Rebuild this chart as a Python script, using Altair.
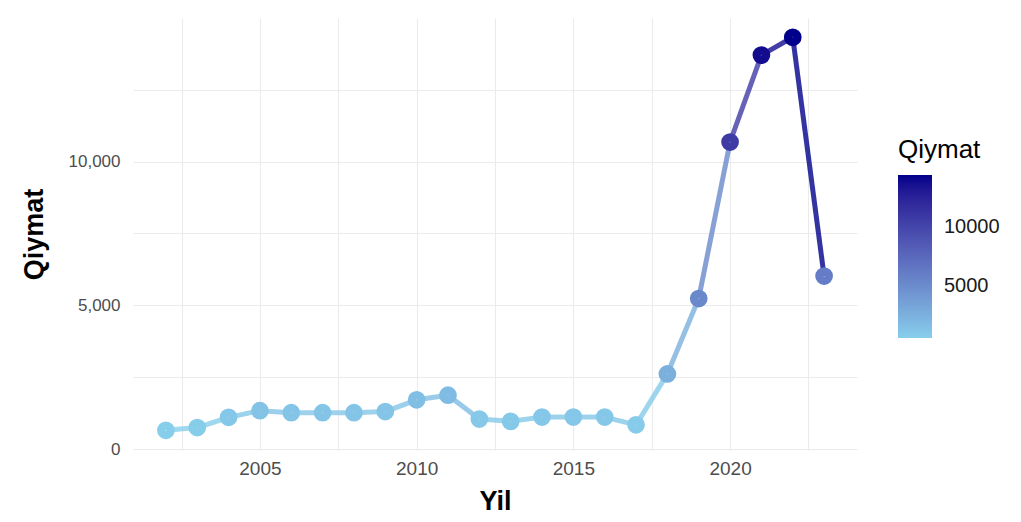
import altair as alt
import pandas as pd

years = list(range(2002, 2024))
values = [660, 755, 1110, 1340, 1270, 1270, 1270, 1310, 1720, 1880, 1050, 970,
          1120, 1120, 1120, 850, 2620, 5240, 10680, 13700, 14320, 6020]

x_grid = [2002.5, 2005, 2007.5, 2010, 2012.5, 2015, 2017.5, 2020, 2022.5]
y_grid = [0, 2500, 5000, 7500, 10000, 12500]
legend_ticks = [5000, 10000]

pts = pd.DataFrame({"Yil": years, "Qiymat": values})
seg = pd.DataFrame({
    "Yil": years[:-1], "Qiymat": values[:-1],
    "Yil2": years[1:], "Qiymat2": values[1:],
})

font = "Liberation Sans"
vmin, vmax = min(values), max(values)

xs = alt.Scale(domain=[2000.95, 2024.05], nice=False, zero=False)
ys = alt.Scale(domain=[-25, 14990], nice=False, zero=False)
cs = alt.Scale(domain=[vmin, vmax], range=["#87CEEB", "#00008B"], interpolate="lab", zero=False)

legend = alt.Legend(
    type="gradient",
    title="Qiymat", orient="none", legendX=765, legendY=119,
    direction="vertical", gradientLength=163, gradientThickness=34,
    gradientStrokeWidth=0, values=legend_ticks, format="d",
    labelFontSize=20, labelColor="#1A1A1A", labelFont=font, labelOffset=12,
    titleFontSize=26, titleFontWeight="normal", titleColor="#000000",
    titleFont=font, titlePadding=12,
)

xaxis = alt.Axis(
    title="Yil", values=x_grid,
    labelExpr="datum.value % 5 == 0 ? format(datum.value, 'd') : ''",
    labelFontSize=19, labelPadding=9, titleFontSize=27, titlePadding=10,
)
yaxis = alt.Axis(
    title="Qiymat", values=y_grid,
    labelExpr="datum.value % 5000 == 0 ? format(datum.value, ',') : ''",
    labelFontSize=17, labelPadding=13, titleFontSize=27, titlePadding=20,
)

color = alt.Color("Qiymat:Q", scale=cs, legend=legend)

lines = alt.Chart(seg).mark_rule(strokeWidth=5, strokeOpacity=0.8).encode(
    x=alt.X("Yil:Q", scale=xs, axis=xaxis),
    x2="Yil2:Q",
    y=alt.Y("Qiymat:Q", scale=ys, axis=yaxis),
    y2="Qiymat2:Q",
    color=color,
)

# thick-stroked circles read as solid discs and keep the legend stroke-only
points = alt.Chart(pts).mark_point(filled=False, size=68, strokeWidth=9.5, opacity=1, shape="circle").encode(
    x=alt.X("Yil:Q", scale=xs, axis=xaxis),
    y=alt.Y("Qiymat:Q", scale=ys, axis=yaxis),
    color=color,
)

chart = alt.layer(lines, points).properties(
    width=724, height=432,
    autosize=alt.AutoSizeParams(type="none"),
    padding={"left": 125, "top": 10, "right": 156, "bottom": 64},
    background="white",
).configure_view(stroke=None, fill="white").configure_axis(
    grid=True, gridColor="#EBEBEB", gridWidth=1.1, domain=False, ticks=False,
    labelColor="#4D4D4D", labelFont=font, titleFont=font, titleColor="#000000",
    titleFontWeight="bold",
)

chart.save("out.html", embed_options={"renderer": "svg", "actions": False})
